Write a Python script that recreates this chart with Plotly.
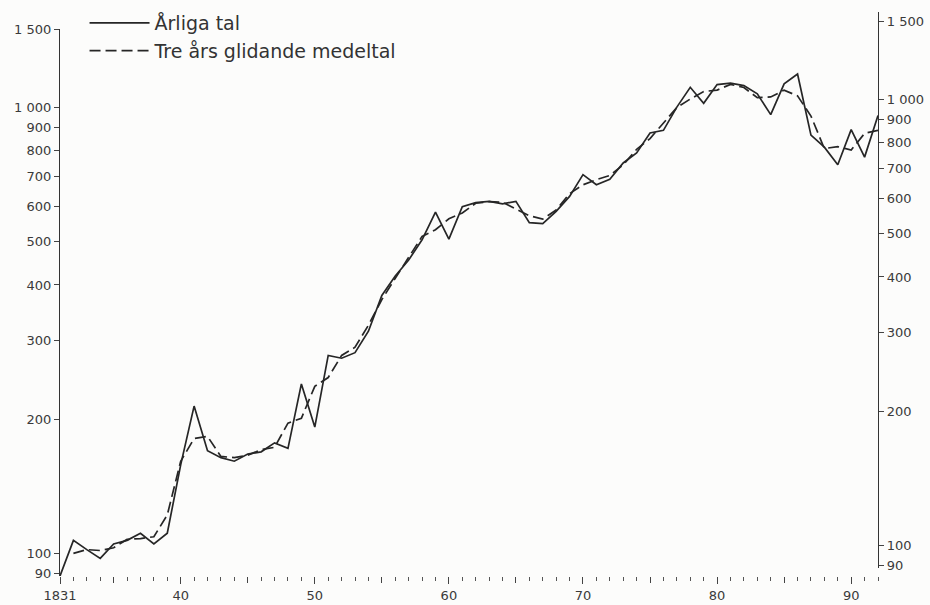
import math
import plotly.graph_objects as go

# ---- data ----
years = list(range(1831, 1893))
annual = [89, 107, 102, 97.5, 105, 107, 111, 105, 111, 158,
          214, 170, 164, 161, 167, 169, 177, 172, 240, 192,
          278, 274, 282, 315, 379, 419, 455, 505, 583, 507,
          599, 612, 616, 608, 616, 552, 549, 585, 632, 707,
          671, 690, 751, 791, 877, 889, 1002, 1110, 1022, 1126,
          1134, 1120, 1073, 964, 1130, 1189, 867, 815, 744, 892,
          774, 960]
ma_years = list(range(1832, 1893))
moving_avg = [100, 102, 101.5, 103, 107.5, 108, 109, 122, 161,
              181, 183, 165, 164, 166, 171, 173, 196, 201, 237,
              248, 278, 290, 325, 371, 414, 460, 514, 532, 563,
              580, 610, 615, 613, 592, 572, 562, 589, 641, 671,
              689, 704, 744, 806, 852, 923, 1000, 1045, 1086, 1094,
              1127, 1109, 1052, 1056, 1094, 1062, 957, 809, 817, 803,
              875, 889]

x_label_vals = [1831, 1840, 1850, 1860, 1870, 1880, 1890]
x_label_text = ["1831", "40", "50", "60", "70", "80", "90"]
x_mid_vals = [1835, 1845, 1855, 1865, 1875, 1885]
y_tick_vals = [90, 100, 200, 300, 400, 500, 600, 700, 800, 900, 1000, 1500]
y_tick_text = ["90", "100", "200", "300", "400", "500", "600", "700", "800",
               "900", "1 000", "1 500"]

INK = "#262626"
FONT = "DejaVu Sans"
BG = "#fcfcfb"

fig = go.Figure()
fig.add_trace(go.Scatter(x=years, y=annual, mode="lines", name="Årliga tal",
                         line=dict(color=INK, width=1.7)))
fig.add_trace(go.Scatter(x=ma_years, y=moving_avg, mode="lines",
                         name="Tre års glidande medeltal",
                         line=dict(color=INK, width=1.7, dash="11px,5px")))
# empty helper traces so the extra axes are drawn
fig.add_trace(go.Scatter(x=[], y=[], xaxis="x2", yaxis="y", showlegend=False,
                         hoverinfo="skip"))
fig.add_trace(go.Scatter(x=[], y=[], xaxis="x", yaxis="y2", showlegend=False,
                         hoverinfo="skip"))

H = 605
T, B = 0, 29
plot_h = H - T - B
top_left_px = 29            # pixel row of 1500 on the left scale
bottom_px = H - B
lo, hi = math.log10(89), math.log10(1500)
dom_top = (bottom_px - top_left_px) / plot_h
ppd = (bottom_px - top_left_px) / (hi - lo)   # pixels per decade
shift = 8                   # right-hand scale sits slightly higher
top2_px = 12
dom2 = [shift / plot_h, (bottom_px - top2_px) / plot_h]
hi2 = lo + (bottom_px - top2_px - shift) / ppd

fig.update_layout(
    width=930, height=605,
    margin=dict(l=60, r=52, t=T, b=B),
    paper_bgcolor=BG, plot_bgcolor="rgba(0,0,0,0)",
    font=dict(family=FONT, size=13, color="#3a3a3a"),
    showlegend=True,
    legend=dict(x=0.03, y=1.0 - 4 / plot_h, xanchor="left", yanchor="top",
                bgcolor="rgba(0,0,0,0)", font=dict(size=19, color="#333"),
                itemwidth=60, tracegroupgap=0),
    xaxis=dict(range=[1831, 1892], showgrid=False, zeroline=False, showline=False,
               automargin=False,
               tickmode="array", tickvals=x_label_vals, ticktext=x_label_text,
               ticks="outside", ticklen=7, tickwidth=1.4, tickcolor="#444",
               minor=dict(tickmode="linear", tick0=1831, dtick=1, ticks="outside",
                          ticklen=4, tickwidth=1.4, tickcolor="#555"),
               tickfont=dict(size=13)),
    xaxis2=dict(range=[1831, 1892], overlaying="x", anchor="y", showgrid=False,
                zeroline=False, showline=False, showticklabels=False,
                automargin=False,
                tickmode="array", tickvals=x_mid_vals, ticks="outside",
                ticklen=6, tickwidth=1.4, tickcolor="#444"),
    yaxis=dict(type="log", range=[lo, hi],
               domain=[0, dom_top], showgrid=False, zeroline=False,
               automargin=False,
               showline=True, linecolor="#333", linewidth=1.3,
               tickmode="array", tickvals=y_tick_vals, ticktext=y_tick_text,
               ticks="outside", ticklen=5, tickwidth=1.2, tickcolor="#444"),
    yaxis2=dict(type="log", range=[lo, hi2],
                domain=dom2, anchor="x", side="right", showgrid=False,
                automargin=False,
                zeroline=False, showline=True, linecolor="#333", linewidth=1.3,
                tickmode="array", tickvals=y_tick_vals, ticktext=y_tick_text,
                ticks="outside", ticklen=5, tickwidth=1.2, tickcolor="#444"),
)

fig.write_html("out.html", config={"displayModeBar": False},
               post_script="document.body.style.margin='0';")
